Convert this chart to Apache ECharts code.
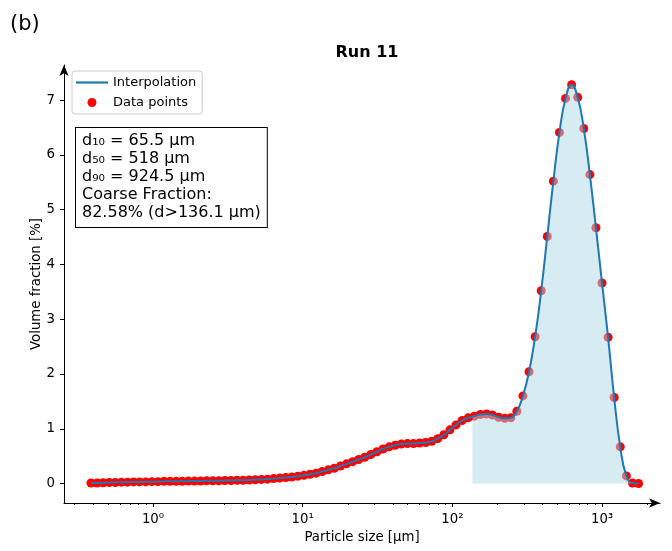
<!DOCTYPE html>
<html>
<head>
<meta charset="utf-8">
<title>Run 11</title>
<script src="https://cdn.jsdelivr.net/npm/echarts@6/dist/echarts.min.js"></script>
<style>
  html, body { margin: 0; padding: 0; background: #fff; }
  #chart { width: 672px; height: 551px; }
</style>
</head>
<body>
<div id="chart"></div>
<script>
// particle size bins [µm] and volume fraction [%]
const sizes = [
  0.385, 0.423, 0.464, 0.510, 0.560, 0.615, 0.675, 0.741, 0.814, 0.894,
  0.983, 1.079, 1.185, 1.301, 1.429, 1.569, 1.723, 1.892, 2.078, 2.281,
  2.505, 2.751, 3.021, 3.317, 3.642, 4.000, 4.392, 4.823, 5.296, 5.816,
  6.386, 7.013, 7.701, 8.456, 9.285, 10.20, 11.20, 12.29, 13.50, 14.83,
  16.28, 17.88, 19.63, 21.56, 23.67, 25.99, 28.54, 31.34, 34.41, 37.79,
  41.50, 45.57, 50.04, 54.95, 60.34, 66.26, 72.76, 79.89, 87.73, 96.33,
  105.8, 116.2, 127.6, 140.1, 153.8, 168.9, 185.5, 203.7, 223.7, 245.6,
  269.7, 296.1, 325.2, 357.1, 392.1, 430.5, 472.8, 519.1, 570.1, 626.0,
  687.4, 754.8, 828.8, 910.1, 999.4, 1097, 1205, 1323, 1453, 1596, 1752
];
const volume = [
  0.01, 0.01, 0.015, 0.02, 0.02, 0.025, 0.025, 0.03, 0.03, 0.03,
  0.035, 0.035, 0.04, 0.04, 0.04, 0.04, 0.045, 0.045, 0.045, 0.05,
  0.05, 0.05, 0.055, 0.055, 0.06, 0.06, 0.065, 0.07, 0.075, 0.08,
  0.09, 0.10, 0.11, 0.12, 0.135, 0.15, 0.17, 0.19, 0.22, 0.25,
  0.28, 0.32, 0.36, 0.40, 0.44, 0.48, 0.53, 0.58, 0.63, 0.67,
  0.70, 0.72, 0.73, 0.73, 0.74, 0.75, 0.77, 0.82, 0.89, 0.98,
  1.07, 1.15, 1.20, 1.23, 1.26, 1.27, 1.25, 1.21, 1.19, 1.20,
  1.32, 1.60, 2.04, 2.68, 3.52, 4.51, 5.52, 6.41, 7.03, 7.28,
  7.05, 6.48, 5.64, 4.67, 3.66, 2.67, 1.57, 0.67, 0.14, 0.01, 0.0
];

// coarse fraction cut and curve height there
const coarseCut = 136.1;
const coarseCutValue = 1.22;

const xTickValues = [1, 10, 100, 1000];
const xTickLabels = ['10⁰', '10¹', '10²', '10³'];
const xMinorTicks = [
  0.3, 0.4, 0.5, 0.6, 0.7, 0.8, 0.9,
  2, 3, 4, 5, 6, 7, 8, 9,
  20, 30, 40, 50, 60, 70, 80, 90,
  200, 300, 400, 500, 600, 700, 800, 900, 2000
];
const yTickValues = [0, 1, 2, 3, 4, 5, 6, 7];

const statLines = [
  'd₁₀ = 65.5 µm',
  'd₅₀ = 518 µm',
  'd₉₀ = 924.5 µm',
  'Coarse Fraction:',
  '82.58% (d>136.1 µm)'
];

const FONT = '"DejaVu Sans", sans-serif';
const X_MIN = 0.2543;
const X_MAX = 2438;

const points = sizes.map((s, i) => [s, volume[i]]);
const coarsePoints = [[coarseCut, coarseCutValue], ...points.filter(p => p[0] > coarseCut)];

const chart = echarts.init(document.getElementById('chart'), null, { renderer: 'canvas' });

const getOption = () => ({
  animation: false,
  backgroundColor: '#fff',
  textStyle: { fontFamily: FONT },
  title: {
    text: 'Run 11',
    left: 362,
    top: 40,
    textAlign: 'center',
    textStyle: { fontFamily: FONT, fontSize: 16, fontWeight: 'bold', color: '#000' },
  },
  legend: {
    orient: 'vertical',
    left: 72,
    top: 71,
    padding: [4, 6, 4, 4],
    itemGap: 5,
    itemWidth: 32,
    itemHeight: 9,
    borderColor: '#cccccc',
    borderWidth: 1,
    borderRadius: 3,
    backgroundColor: 'rgba(255,255,255,0.8)',
    textStyle: { fontFamily: FONT, fontSize: 13, color: '#000', lineHeight: 15 },
    data: [
      { name: 'Interpolation', icon: 'path://M0,0H29V2H0Z', itemStyle: { color: '#1f77b4' } },
      { name: 'Data points', icon: 'circle', itemStyle: { color: '#ff0000' } },
    ],
  },
  grid: { left: 64, right: 12, top: 65, bottom: 48 },
  xAxis: [
    {
      type: 'log',
      min: X_MIN,
      max: X_MAX,
      position: 'bottom',
      name: 'Particle size [µm]',
      nameLocation: 'middle',
      nameGap: 28,
      nameMoveOverlap: false,
      nameTextStyle: { fontFamily: FONT, fontSize: 13.3, color: '#000' },
      axisLine: {
        show: true,
        onZero: false,
        lineStyle: { color: '#000', width: 1 },
        symbol: ['none', 'arrow'],
        symbolSize: [7, 11],
      },
      axisTick: { show: true, length: 4, customValues: xTickValues, lineStyle: { color: '#000' } },
      axisLabel: {
        customValues: xTickValues,
        formatter: (v) => xTickLabels[xTickValues.indexOf(Math.round(v))] || '',
        fontFamily: FONT,
        fontSize: 13.3,
        color: '#000',
        margin: 10,
      },
      splitLine: { show: false },
      minorTick: { show: false },
    },
    {
      // minor ticks only
      type: 'log',
      min: X_MIN,
      max: X_MAX,
      position: 'bottom',
      axisLine: { show: false, onZero: false },
      axisTick: { show: true, length: 2, customValues: xMinorTicks, lineStyle: { color: '#000' } },
      axisLabel: { show: false },
      splitLine: { show: false },
    },
  ],
  yAxis: {
    type: 'value',
    min: -0.355,
    max: 7.64,
    name: 'Volume fraction [%]',
    nameLocation: 'middle',
    nameGap: 21,
    nameMoveOverlap: false,
    nameTextStyle: { fontFamily: FONT, fontSize: 13.3, color: '#000' },
    axisLine: {
      show: true,
      onZero: false,
      lineStyle: { color: '#000', width: 1 },
      symbol: ['none', 'arrow'],
      symbolSize: [7, 11],
    },
    axisTick: { show: true, length: 4, customValues: yTickValues, lineStyle: { color: '#000' } },
    axisLabel: {
      customValues: yTickValues,
      fontFamily: FONT,
      fontSize: 13.3,
      color: '#000',
      margin: 9,
    },
    splitLine: { show: false },
  },
  series: [
    {
      name: 'Data points',
      type: 'scatter',
      data: points,
      symbol: 'circle',
      symbolSize: 9,
      itemStyle: { color: '#ff0000', opacity: 1 },
      z: 1,
    },
    {
      name: 'Coarse',
      type: 'line',
      data: coarsePoints,
      smooth: 0.5,
      symbol: 'none',
      lineStyle: { width: 0 },
      areaStyle: { color: 'rgba(173,216,230,0.5)', opacity: 1, origin: 0 },
      z: 2,
      silent: true,
    },
    {
      name: 'Interpolation',
      type: 'line',
      data: points,
      smooth: 0.5,
      symbol: 'none',
      lineStyle: { color: '#1f77b4', width: 2 },
      itemStyle: { color: '#1f77b4' },
      z: 3,
    },
  ],
  graphic: [
    {
      type: 'text',
      left: 10,
      top: 14,
      style: { text: '(b)', font: '21px ' + FONT, fill: '#000' },
    },
    {
      type: 'text',
      left: 75,
      top: 127,
      style: {
        text: statLines.join('\n'),
        font: '16px ' + FONT,
        lineHeight: 18,
        fill: '#000',
        backgroundColor: '#fff',
        borderColor: '#000',
        borderWidth: 1,
        padding: [4, 6, 5, 6],
      },
      z: 10,
    },
  ],
});

chart.setOption(getOption());
</script>
</body>
</html>
